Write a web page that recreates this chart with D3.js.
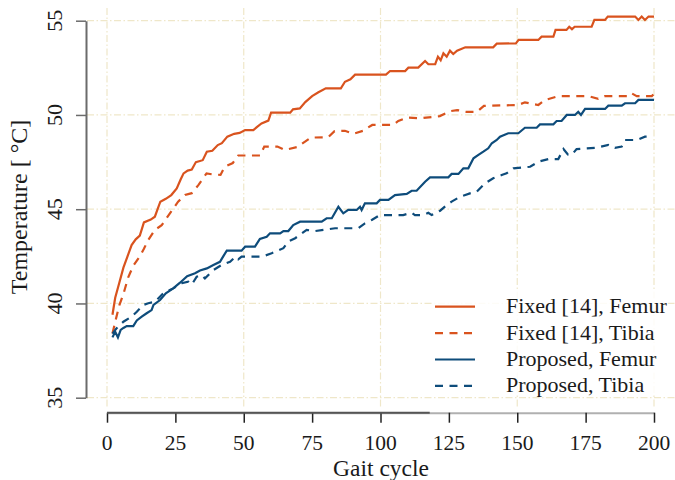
<!DOCTYPE html>
<html>
<head>
<meta charset="utf-8">
<script src="https://cdn.jsdelivr.net/npm/d3@7"></script>
<style>
  body { margin: 0; background: #fff; }
  text { font-family: "Liberation Serif", "Times New Roman", serif; fill: #1a1a1a; }
</style>
</head>
<body>
<svg id="chart" width="675" height="480"></svg>
<script>
// [gait cycle, temperature]
let fixed_femur = [[2,39.4],[3,40.3],[4.5,41.1],[6,41.9],[7.5,42.5],[9,43.1],[10.5,43.4],[12,43.6],[13.5,44.3],[16,44.45],
  [17.5,44.6],[18.5,45.0],[19.5,45.4],[21.5,45.55],[23.5,45.75],[25.5,46.1],[27,46.6],[28,46.9],[29.5,47.05],[31,47.1],
  [32.5,47.5],[35,47.6],[36.5,48.05],[38.5,48.1],[40.5,48.4],[42,48.5],[44,48.85],[46.5,49.0],[48.5,49.05],[50.5,49.2],
  [53.5,49.2],[55,49.38],[56.5,49.55],[59,49.7],[60,50.12],[67,50.12],[68,50.3],[70.5,50.35],[72.5,50.68],[75,51.0],
  [77.3,51.2],[80,51.41],[85.5,51.41],[87,51.76],[89,51.89],[90.7,52.14],[102,52.14],[103.5,52.33],[109,52.33],[110.2,52.51],
  [113.8,52.51],[116.3,52.86],[117.5,52.69],[120,52.69],[121,53.09],[122,52.9],[123,53.27],[124.2,53.09],[125.4,53.41],[126.6,53.23],
  [128,53.41],[131,53.59],[141.2,53.59],[142.5,53.78],[149.5,53.8],[150.5,53.98],[157.7,53.98],[158.9,54.15],[163.2,54.15],[164,54.51],
  [168,54.51],[169,54.68],[170,54.55],[171,54.68],[177.2,54.68],[178.2,55.04],[182.1,55.04],[183.1,55.22],[193.1,55.22],[194.3,55.04],
  [195.5,55.22],[196.7,55.04],[198,55.22],[200,55.22]];

let fixed_tibia = [[2,38.4],[3.3,39.2],[4.5,39.9],[6,40.5],[7.8,41.4],[9.6,42.0],[12,42.5],[13.5,42.9],[15,43.35],[17.5,43.9],
  [20,44.15],[23,44.78],[26,45.4],[28.5,45.75],[31,45.85],[33.4,46.28],[36.4,46.9],[38.5,46.85],[41.5,46.82],[43,47.25],
  [46,47.45],[48,47.85],[56,47.85],[57.5,48.32],[62.3,48.32],[65,48.14],[69.6,48.3],[74.5,48.8],[80.9,48.82],[83.2,49.14],
  [87,49.16],[90.1,49.0],[93.7,49.16],[95.5,49.34],[97,49.47],[104.7,49.47],[106.5,49.68],[109.6,49.86],[114.4,49.82],[121.7,49.94],
  [125.4,50.2],[128,50.26],[131.5,50.16],[135.2,50.16],[137.8,50.48],[150.4,50.53],[152.8,50.67],[155,50.6],[157.7,50.53],[160.1,50.79],
  [165,51.0],[176,51.0],[179.6,50.85],[182.1,51.0],[190.6,51.0],[191.8,51.15],[193.7,51.0],[199.2,51.0],[200,51.12]];

let proposed_femur = [[2,38.2],[3,38.5],[4,38.2],[5,38.6],[6,38.7],[7.2,38.8],[9.6,38.8],[10.9,39.1],[12.7,39.3],[14.5,39.48],
  [16.3,39.65],[17,39.92],[19.4,40.18],[21.5,40.54],[24.2,40.8],[26.7,41.1],[29.3,41.45],[32.2,41.6],[34,41.75],[36.5,41.86],
  [38.9,42.04],[41.3,42.21],[42.5,42.5],[43.8,42.8],[49.2,42.8],[50.5,43.01],[54.1,43.01],[55.9,43.42],[58.4,43.54],[59.6,43.72],
  [63.3,43.72],[64.5,43.84],[66.3,43.84],[68.1,44.16],[70.6,44.34],[78.5,44.34],[80.3,44.52],[82.2,44.52],[84.6,45.13],[86.4,44.78],
  [88.2,44.96],[91.3,44.96],[92.5,45.13],[93.1,44.96],[94.3,45.31],[98.6,45.31],[99.8,45.49],[102.9,45.49],[105.3,45.75],[109.6,45.81],
  [111.4,45.98],[113.2,45.98],[116.3,46.46],[118.1,46.69],[124.8,46.69],[126,46.87],[128.5,46.87],[130.3,47.17],[132.1,47.17],[134,47.7],
  [135.8,47.88],[137.6,48.05],[139.4,48.23],[140.7,48.5],[142.5,48.67],[143.7,48.85],[146.7,49.03],[150.4,49.03],[152.8,49.32],[157.1,49.32],
  [158.3,49.5],[163.2,49.5],[164.4,49.68],[166.2,49.68],[168.1,50.0],[171.1,50.0],[172.3,50.17],[173.3,50.0],[174.8,50.32],[182.1,50.32],
  [183.3,50.49],[188.2,50.49],[189.4,50.62],[193.1,50.62],[194.3,50.8],[200,50.8]];

let proposed_tibia = [[2,38.4],[3.5,38.68],[6,39.03],[9,39.3],[10.9,39.56],[13.3,39.92],[15.1,40.01],[17.6,40.09],[20.6,40.54],[24.2,40.8],
  [27.3,41.07],[29.7,41.16],[31,41.0],[32.8,41.42],[34.6,41.51],[35.8,41.33],[38.9,41.77],[41.9,42.04],[45,42.21],[47,42.48],
  [48,42.34],[49.2,42.48],[56.6,42.48],[60.2,42.66],[64.5,42.93],[66.3,43.28],[68.8,43.46],[73,43.9],[76.1,43.84],[83.4,43.99],
  [91.9,43.99],[94.3,44.25],[96.8,44.43],[99.8,44.69],[108.3,44.69],[111.4,44.81],[112.6,44.69],[115.7,44.69],[117.5,44.81],[118.7,44.69],
  [121.8,44.92],[124.2,45.22],[126,45.4],[129.1,45.66],[132.7,45.84],[135.2,45.93],[138.2,46.37],[141.2,46.64],[144.3,46.81],[146.1,46.9],
  [148.6,47.17],[154.7,47.25],[157.7,47.52],[161.4,47.66],[165,47.66],[166.9,48.19],[168.5,47.9],[169.9,47.88],[171.7,48.19],[179,48.26],
  [183.3,48.41],[185.7,48.26],[188.2,48.32],[189.4,48.67],[193.7,48.67],[196.7,48.85],[197.3,48.85]];

let series_names = ['Fixed [14], Femur', 'Fixed [14], Tibia', 'Proposed, Femur', 'Proposed, Tibia'];
let x_ticks = [0, 25, 50, 75, 100, 125, 150, 175, 200];
let x_grid = [0, 50, 100, 150, 200];
let y_ticks = [35, 40, 45, 50, 55];

let orange = '#d9531e';
let blue = '#0e4c7b';
let grid_color = '#efe7c9';

let series = [
  {name: series_names[0], data: fixed_femur, color: orange, dash: null},
  {name: series_names[1], data: fixed_tibia, color: orange, dash: '8,6.5'},
  {name: series_names[2], data: proposed_femur, color: blue, dash: null},
  {name: series_names[3], data: proposed_tibia, color: blue, dash: '8,6.5'}
];

let x = d3.scaleLinear().domain([0, 200]).range([107, 654]);
let y = d3.scaleLinear().domain([35, 55]).range([397.7, 20.7]);

let svg = d3.select('#chart');

// grid (dash-dot)
svg.selectAll('.grid-h')
  .data(y_ticks)
  .enter().append('line')
  .attr('class', 'grid-h')
  .attr('x1', 87).attr('x2', 675)
  .attr('y1', d => y(d)).attr('y2', d => y(d))
  .attr('stroke', grid_color)
  .attr('stroke-width', 1.2)
  .attr('stroke-dasharray', '7,2.5,1.5,2.5');

svg.selectAll('.grid-v')
  .data(x_grid)
  .enter().append('line')
  .attr('class', 'grid-v')
  .attr('x1', d => x(d)).attr('x2', d => x(d))
  .attr('y1', 8).attr('y2', 408)
  .attr('stroke', grid_color)
  .attr('stroke-width', 1.2)
  .attr('stroke-dasharray', '7,2.5,1.5,2.5');

// curves
let line = d3.line()
  .x(d => x(d[0]))
  .y(d => y(d[1]));

svg.selectAll('.curve')
  .data(series)
  .enter().append('path')
  .attr('class', 'curve')
  .attr('d', d => line(d.data))
  .attr('fill', 'none')
  .attr('stroke', d => d.color)
  .attr('stroke-width', 2.2)
  .attr('stroke-linejoin', 'miter')
  .attr('stroke-dasharray', d => d.dash);

// y axis
let y_axis = svg.append('g')
  .attr('transform', 'translate(86,0)')
  .call(d3.axisLeft(y).tickValues(y_ticks).tickSize(10).tickSizeOuter(0).tickFormat(''));
y_axis.select('.domain').attr('stroke', '#6b6b6b').attr('stroke-width', 2);
y_axis.selectAll('.tick line').attr('stroke', '#6b6b6b').attr('stroke-width', 1.5);

svg.selectAll('.y-label')
  .data(y_ticks)
  .enter().append('text')
  .attr('class', 'y-label')
  .attr('transform', d => `translate(62,${y(d)}) rotate(-90)`)
  .attr('text-anchor', 'middle')
  .style('font-size', '22px')
  .text(d => d);

// x axis, drawn darker on the left part as in the figure
let x_axis = svg.append('g')
  .attr('transform', 'translate(0,412.7)')
  .call(d3.axisBottom(x).tickValues(x_ticks).tickSize(10).tickSizeOuter(0).tickFormat(''));
x_axis.select('.domain').attr('stroke', '#b0b0b0').attr('stroke-width', 2);
x_axis.selectAll('.tick line').attr('stroke', '#222').attr('stroke-width', 1.5);
x_axis.append('line')
  .attr('x1', x(0)).attr('x2', x(118))
  .attr('stroke', '#555').attr('stroke-width', 2);

svg.selectAll('.x-label')
  .data(x_ticks)
  .enter().append('text')
  .attr('class', 'x-label')
  .attr('x', d => x(d))
  .attr('y', 449.5)
  .attr('text-anchor', 'middle')
  .style('font-size', '21.5px')
  .text(d => d);

svg.append('text')
  .attr('x', 381)
  .attr('y', 476)
  .attr('text-anchor', 'middle')
  .style('font-size', '23.5px')
  .text('Gait cycle');

svg.append('text')
  .attr('transform', 'translate(27,207) rotate(-90)')
  .attr('text-anchor', 'middle')
  .style('font-size', '24px')
  .text('Temperature [ °C]');

// legend
let legend = svg.append('g');
legend.append('rect')
  .attr('x', 432).attr('y', 291)
  .attr('width', 236).attr('height', 104)
  .attr('fill', '#fff')
  .attr('fill-opacity', 0.85);

let item = legend.selectAll('.legend-item')
  .data(series)
  .enter().append('g')
  .attr('class', 'legend-item')
  .attr('transform', (d, i) => `translate(0,${306.7 + i * 26.4})`);

item.append('line')
  .attr('x1', 435).attr('x2', 475)
  .attr('stroke', d => d.color)
  .attr('stroke-width', 2.2)
  .attr('stroke-dasharray', d => d.dash);

item.append('text')
  .attr('x', 506)
  .attr('y', 6.5)
  .style('font-size', '22px')
  .text(d => d.name);
</script>
</body>
</html>
